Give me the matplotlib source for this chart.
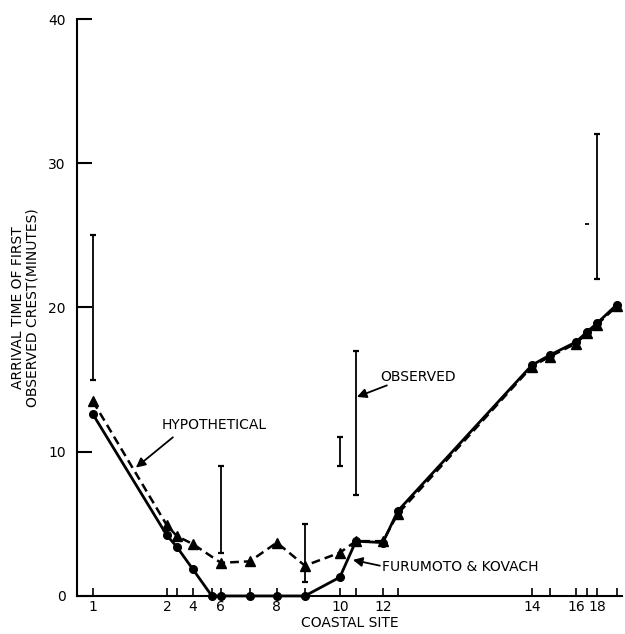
import numpy as np
import matplotlib
matplotlib.use('Agg')
from matplotlib import pyplot as plt

# site number and its position along the coast (arbitrary distance units)
sites = list(range(1, 20))
site_pos = [0, 74, 84, 100, 119, 128, 157, 184, 212, 247, 263, 290, 305,
            439, 457, 483, 494, 504, 524]
tick_labels = {1: "1", 2: "2", 4: "4", 6: "6", 8: "8", 10: "10",
               12: "12", 14: "14", 16: "16", 18: "18"}

# arrival time of first crest (minutes)
furumoto = [12.6, 4.2, 3.4, 1.85, 0, 0, 0, 0, 0, 1.3, 3.8, 3.7, 5.9,
            16.0, 16.7, 17.6, 18.3, 18.9, 20.2]
hypothetical = [13.5, 4.9, 4.15, 3.6, np.nan, 2.3, 2.4, 3.7, 2.1, 3.0, 3.8,
                3.8, 5.7, 15.9, 16.6, 17.5, 18.2, 18.8, 20.1]

# observed ranges: site, low, high
obs_sites = [1, 6, 9, 10, 11, 18]
obs_low = [15, 3, 1, 9, 7, 22]
obs_high = [25, 9, 5, 11, 17, 32]
# single observed value
obs_single_site = [17]
obs_single = [25.8]

pos = dict(zip(sites, site_pos))

plt.rcParams['font.family'] = ['DejaVu Sans']
fig = plt.figure(figsize=(6.25, 6.34), dpi=100)
ax = fig.add_axes([0.123, 0.060, 0.872, 0.910])

x = np.array(site_pos, dtype=float)
h = np.array(hypothetical)
ok = ~np.isnan(h)
ax.plot(x[ok], h[ok], color='k', ls=(0, (3.5, 2.0)), lw=1.8,
        marker='^', ms=6.5, zorder=3, clip_on=False)
ax.plot(x, furumoto, color='k', ls='-', lw=2.0, marker='o', ms=5.5,
        zorder=4, clip_on=False)

ox = np.array([pos[s] for s in obs_sites])
ax.vlines(ox, obs_low, obs_high, color='k', lw=1.3)
ax.hlines(obs_low, ox - 3, ox + 3, color='k', lw=1.6)
ax.hlines(obs_high, ox - 3, ox + 3, color='k', lw=1.6)
sx = np.array([pos[s] for s in obs_single_site])
ax.hlines(obs_single, sx - 2, sx + 2, color='k', lw=1.3)

ax.set_xlim(-16, 529)
ax.set_ylim(0, 40)
ax.spines['top'].set_visible(False)
ax.spines['right'].set_visible(False)
ax.spines['left'].set_linewidth(1.5)
ax.spines['bottom'].set_linewidth(1.5)

ax.set_xticks(site_pos)
ax.set_xticklabels([tick_labels.get(s, "") for s in sites])
ax.set_yticks([0, 10, 20, 30, 40])
ax.tick_params(axis='x', direction='in', length=6, width=1.2, pad=3,
               labelsize=10)
ax.tick_params(axis='y', direction='in', length=11, width=1.5, pad=8,
               labelsize=10)

ax.set_xlabel("COASTAL SITE", fontsize=10, labelpad=1)
ax.set_ylabel("ARRIVAL TIME OF FIRST\nOBSERVED CREST(MINUTES)", fontsize=10,
              labelpad=6, linespacing=1.1)

arrow = dict(arrowstyle='-|>', color='k', lw=1.3, mutation_scale=14,
             shrinkA=0, shrinkB=0)
ax.text(121, 11.85, "HYPOTHETICAL", ha='center', va='center', fontsize=10)
ax.annotate("", xy=(43, 8.9), xytext=(80, 11.0), arrowprops=arrow)
ax.text(289, 2.0, "FURUMOTO & KOVACH", ha='left', va='center', fontsize=10)
ax.annotate("", xy=(260, 2.5), xytext=(287, 2.1), arrowprops=arrow)
ax.text(325, 15.2, "OBSERVED", ha='center', va='center', fontsize=10)
ax.annotate("", xy=(264, 13.8), xytext=(294, 14.6), arrowprops=arrow)

plt.savefig("out.png", dpi=100)
